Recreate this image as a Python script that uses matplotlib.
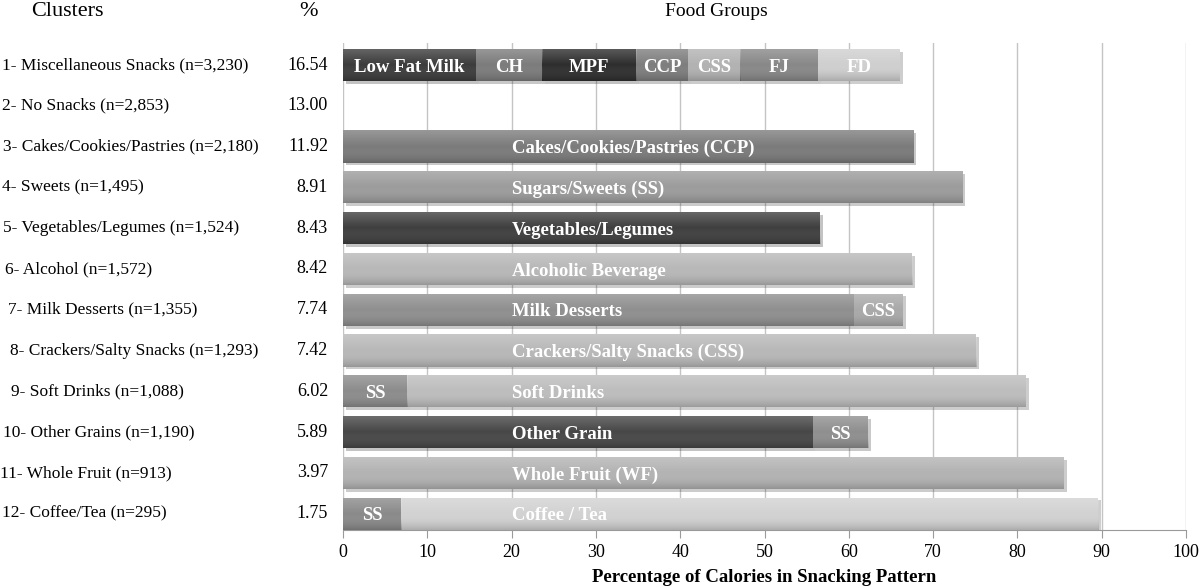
import numpy as np
import matplotlib
matplotlib.use("Agg")
import matplotlib.pyplot as plt
import matplotlib.patheffects as pe
from matplotlib.colors import LinearSegmentedColormap
from matplotlib.transforms import blended_transform_factory

# data
clusters = [
    "1- Miscellaneous Snacks (n=3,230)",
    "2- No Snacks (n=2,853)",
    "3- Cakes/Cookies/Pastries (n=2,180)",
    "4- Sweets (n=1,495)",
    "5- Vegetables/Legumes (n=1,524)",
    "6- Alcohol (n=1,572)",
    "7- Milk Desserts (n=1,355)",
    "8- Crackers/Salty Snacks (n=1,293)",
    "9- Soft Drinks (n=1,088)",
    "10- Other Grains (n=1,190)",
    "11- Whole Fruit (n=913)",
    "12- Coffee/Tea (n=295)",
]
cluster_pct = ["16.54", "13.00", "11.92", "8.91", "8.43", "8.42",
               "7.74", "7.42", "6.02", "5.89", "3.97", "1.75"]

segment_labels = [
    ["Low Fat Milk", "CH", "MPF", "CCP", "CSS", "FJ", "FD"],
    [],
    ["Cakes/Cookies/Pastries (CCP)"],
    ["Sugars/Sweets (SS)"],
    ["Vegetables/Legumes"],
    ["Alcoholic Beverage"],
    ["Milk Desserts", "CSS"],
    ["Crackers/Salty Snacks (CSS)"],
    ["SS", "Soft Drinks"],
    ["Other Grain", "SS"],
    ["Whole Fruit (WF)"],
    ["SS", "Coffee / Tea"],
]
segment_values = [
    [15.75, 7.85, 11.2, 6.1, 6.25, 9.25, 9.65],
    [],
    [67.7],
    [73.5],
    [56.6],
    [67.5],
    [60.6, 5.8],
    [75.1],
    [7.6, 73.4],
    [55.7, 6.6],
    [85.5],
    [6.9, 82.7],
]
x_ticks = [0, 10, 20, 30, 40, 50, 60, 70, 80, 90, 100]

# styling
segment_colors = [
    ["#3c3c3c", "#7c7c7c", "#2e2e2e", "#7e7e7e", "#b2b2b2", "#888888", "#cfcfcf"],
    [],
    ["#7b7b7b"],
    ["#9c9c9c"],
    ["#3f3f3f"],
    ["#b8b8b8"],
    ["#8f8f8f", "#a9a9a9"],
    ["#b8b8b8"],
    ["#8c8c8c", "#bdbdbd"],
    ["#474747", "#8f8f8f"],
    ["#b3b3b3"],
    ["#8a8a8a", "#d2d2d2"],
]
# left indent of each cluster label, in pixels (the source is not aligned)
label_indent = [2, 2, 3, 2, 3, 5, 8, 10, 11, 3, 0, 2]

serif = ["Liberation Serif", "DejaVu Serif"]
plt.rcParams["font.family"] = serif

fig = plt.figure(figsize=(12, 5.87), dpi=100)
ax = fig.add_axes([343 / 1200, 1 - 530 / 587, (1186 - 343) / 1200, (530 - 43) / 587])

gloss = LinearSegmentedColormap.from_list(
    "gloss", [(1, 1, 1, 0.22), (1, 1, 1, 0.0), (0, 0, 0, 0.18)])
grad = np.linspace(0, 1, 64).reshape(-1, 1)

bar_h = 0.79
for i, (labs, vals, cols) in enumerate(zip(segment_labels, segment_values, segment_colors)):
    left = 0
    for lab, v, c in zip(labs, vals, cols):
        bar = ax.barh(i, v, left=left, height=bar_h, color=c, zorder=3,
                      path_effects=[pe.SimplePatchShadow(offset=(2, -2), alpha=0.25),
                                    pe.Normal()])[0]
        x0, y0 = bar.get_x(), bar.get_y()
        im = ax.imshow(grad, cmap=gloss, aspect="auto", zorder=4,
                       extent=(x0, x0 + bar.get_width(), y0 + bar.get_height(), y0))
        im.set_clip_path(bar)
        if v > 30:
            ax.text(20, i + 0.05, lab, ha="left", va="center", color="white",
                    fontsize=13.5, fontweight="bold", zorder=5)
        else:
            ax.text(left + v / 2, i + 0.05, lab, ha="center", va="center",
                    color="white", fontsize=13.5, fontweight="bold", zorder=5)
        left += v

ax.set_xlim(0, 100)
ax.set_ylim(11.4, -0.54)
ax.set_xticks(x_ticks)
ax.set_yticks([])
ax.grid(axis="x", color="#c4c4c4", linewidth=1, zorder=0)
for s in ["top", "right", "left"]:
    ax.spines[s].set_visible(False)
ax.spines["bottom"].set_color("#9a9a9a")
ax.tick_params(axis="x", direction="out", length=6, color="#9a9a9a",
               labelsize=13, pad=4)
ax.set_xlabel("Percentage of Calories in Snacking Pattern", fontsize=13.5,
              fontweight="bold")
ax.xaxis.set_label_coords(0.5, -47 / 487)
ax.xaxis.label.set_va("center")

trans = blended_transform_factory(fig.transFigure, ax.transData)
for i, (name, pct) in enumerate(zip(clusters, cluster_pct)):
    ax.text(label_indent[i] / 1200, i, name, transform=trans, ha="left",
            va="center", fontsize=12.5)
    ax.text(328 / 1200, i, pct, transform=trans, ha="right", va="center",
            fontsize=13)

fig.text(67 / 1200, 1 - 11 / 587, "Clusters", ha="center", va="center", fontsize=16)
fig.text(309 / 1200, 1 - 11 / 587, "%", ha="center", va="center", fontsize=16)
fig.text(716 / 1200, 1 - 11 / 587, "Food Groups", ha="center", va="center", fontsize=14)

fig.savefig("out.png", dpi=100)
